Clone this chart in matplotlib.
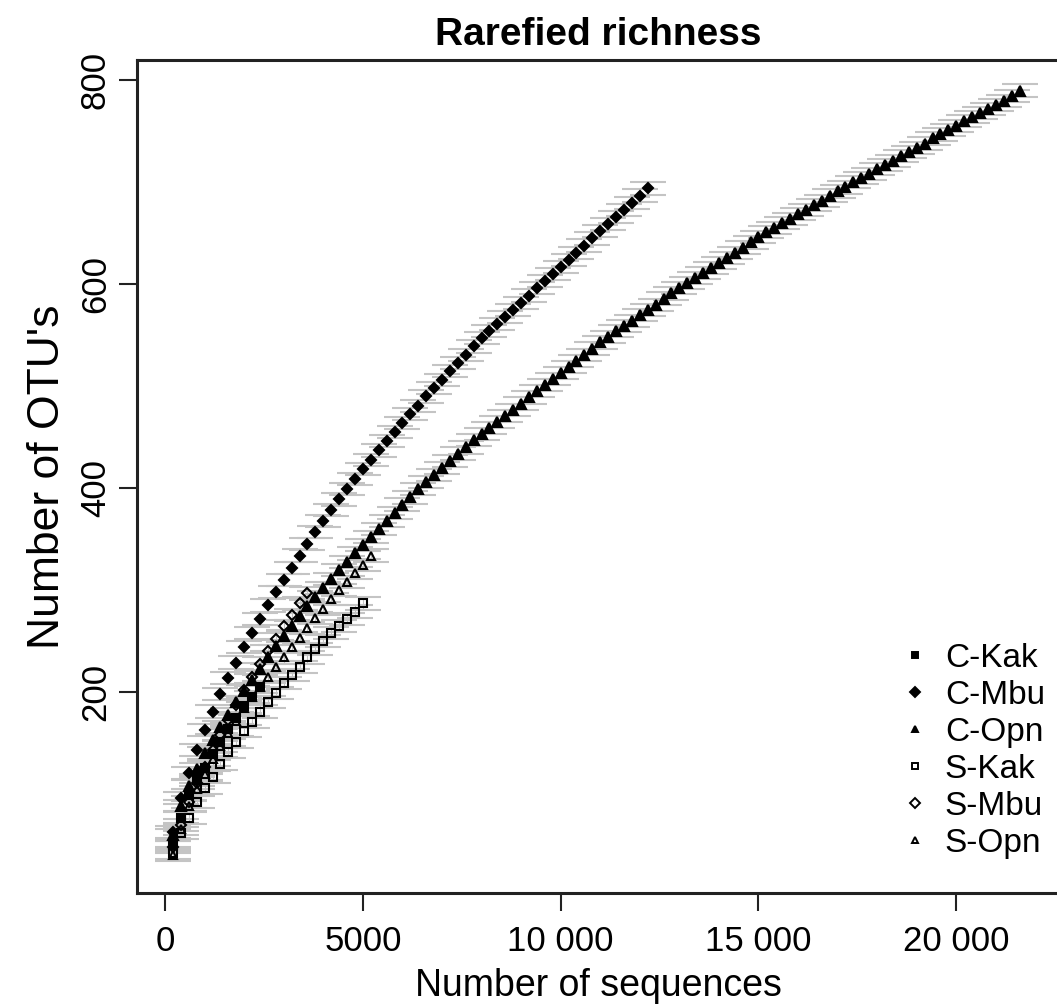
import matplotlib
matplotlib.use("Agg")
import matplotlib.pyplot as plt

plt.rcParams["font.family"] = ["Liberation Sans", "DejaVu Sans"]

# rarefaction depths are taken every 200 sequences
STEP = 200

LABELS = ["C-Kak", "C-Mbu", "C-Opn", "S-Kak", "S-Mbu", "S-Opn"]
MARKERS = ["s", "D", "^", "s", "D", "^"]
FILLED = [True, True, True, False, False, False]

C_KAK = [50, 77, 99, 114, 126, 139, 151, 164, 175, 186, 195, 205]

C_MBU = [63, 96, 121, 143, 163, 181, 198, 214, 229, 244,
         258, 272, 285, 298, 310, 322, 334, 345, 357, 368,
         379, 389, 399, 409, 419, 428, 437, 446, 455, 464,
         473, 481, 490, 498, 506, 515, 523, 531, 539, 547,
         554, 561, 568, 575, 582, 589, 596, 603, 610, 617,
         624, 631, 638, 645, 652, 659, 666, 673, 680, 687,
         694]

C_OPN = [60, 88, 108, 125, 140, 153, 166, 178, 190, 201,
         212, 223, 234, 245, 255, 265, 275, 284, 293, 302,
         311, 320, 328, 336, 344, 352, 360, 368, 376, 384,
         391, 399, 406, 413, 420, 427, 434, 440, 447, 453,
         459, 465, 471, 477, 483, 489, 495, 501, 507, 513,
         519, 525, 531, 537, 543, 548, 554, 559, 564, 570,
         575, 580, 586, 591, 596, 601, 606, 611, 616, 621,
         626, 631, 636, 641, 646, 651, 655, 660, 664, 669,
         673, 678, 682, 687, 691, 695, 700, 704, 708, 713,
         717, 721, 726, 730, 734, 738, 743, 747, 751, 755,
         760, 764, 768, 772, 776, 780, 785, 790]

S_KAK = [42, 62, 77, 92, 106, 117, 130, 141, 151, 162,
         171, 181, 190, 199, 209, 217, 225, 234, 242, 250,
         258, 265, 272, 279, 287]

S_MBU = [48, 70, 92, 111, 127, 143, 158, 173, 187, 202,
         215, 228, 240, 252, 265, 276, 287, 297]

S_OPN = [40, 66, 88, 105, 120, 134, 147, 160, 172, 184,
         195, 205, 215, 225, 234, 244, 253, 263, 273, 282,
         291, 300, 308, 317, 325, 334]

SERIES = [C_KAK, C_MBU, C_OPN, S_KAK, S_MBU, S_OPN]

# standard error of rarefied richness, per series
SE = [6, 6, 6, 6, 6, 6]

X_TICKS = [0, 5000, 10000, 15000, 20000]
X_TICK_LABELS = ["0", "5000", "10 000", "15 000", "20 000"]
Y_TICKS = [200, 400, 600, 800]


fig = plt.figure(figsize=(10.57, 10.06), dpi=100)
ax = fig.add_axes([0.1296, 0.1123, 0.8724, 0.8281])

for vals, lab, mk, filled, se in zip(SERIES, LABELS, MARKERS, FILLED, SE):
    depth = [STEP * (i + 1) for i in range(len(vals))]
    size = {"s": 6.0, "D": 5.6, "^": 7.2}[mk]
    if not filled:
        size -= 0.8
    ax.errorbar(
        depth,
        vals,
        yerr=se,
        fmt=mk,
        color="black",
        markerfacecolor="black" if filled else "none",
        markeredgewidth=1.5,
        markersize=size,
        ecolor="#c4c4c4",
        elinewidth=0.8,
        capsize=13,
        capthick=1.1,
        label=lab,
    )

ax.set_xlim(-710, 22600)
ax.set_ylim(3, 820)
ax.set_xticks(X_TICKS)
ax.set_xticklabels(X_TICK_LABELS, fontsize=25)
ax.set_yticks(Y_TICKS)
ax.set_yticklabels([str(v) for v in Y_TICKS], fontsize=25,
                   rotation=90, va="center")
ax.tick_params(axis="both", width=1.5, length=13, color="#222222")
ax.tick_params(axis="x", pad=10)
ax.tick_params(axis="y", pad=5)

for side in ["left", "bottom", "top"]:
    ax.spines[side].set_linewidth(2.2)
    ax.spines[side].set_color("#222222")
ax.spines["right"].set_visible(False)

ax.set_xlabel("Number of sequences", fontsize=27, labelpad=7)
ax.set_ylabel("Number of OTU's", fontsize=32, labelpad=8)
ax.set_title("Rarefied richness", fontsize=28, fontweight="bold", pad=11)

handles = [
    plt.Line2D([], [], linestyle="none", marker=mk, color="black",
               markerfacecolor="black" if filled else "none",
               markeredgewidth=1.4, markersize=5)
    for mk, filled in zip(MARKERS, FILLED)
]
ax.legend(handles, LABELS, loc="lower right", bbox_to_anchor=(1.01, 0.013),
          frameon=False, fontsize=24, handlelength=0.8, handletextpad=0.5,
          labelspacing=0.18, borderaxespad=0.3)

fig.savefig("out.png", dpi=100)
